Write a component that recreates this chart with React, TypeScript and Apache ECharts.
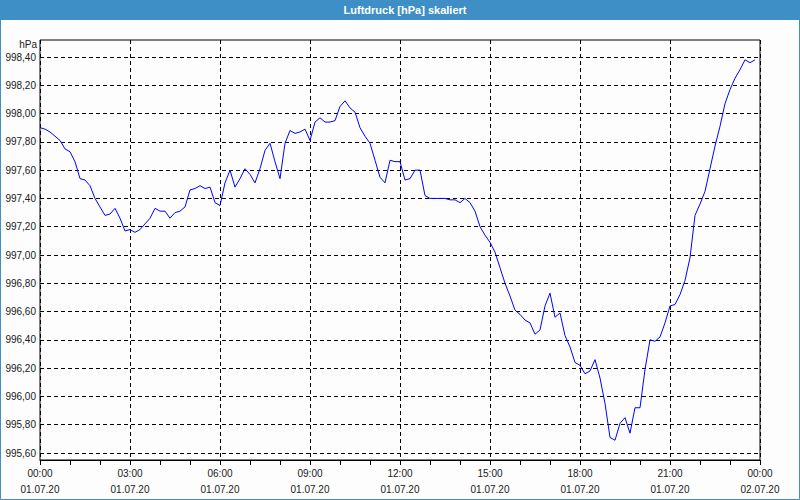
import React, { useEffect, useRef } from "react";
import * as echarts from "echarts";

// Luftdruck [hPa], 10-minute readings starting 01.07.20 00:00
const stepMinutes = 10;
const pressure: number[] = [
  997.90, 997.89, 997.87, 997.84, 997.81, 997.75, 997.73, 997.66, 997.54, 997.53,
  997.49, 997.40, 997.34, 997.28, 997.29, 997.33, 997.26, 997.17, 997.18, 997.16,
  997.18, 997.22, 997.26, 997.33, 997.31, 997.31, 997.26, 997.30, 997.31, 997.34,
  997.46, 997.47, 997.49, 997.47, 997.48, 997.37, 997.35, 997.51, 997.60, 997.48,
  997.54, 997.61, 997.57, 997.51, 997.61, 997.74, 997.79, 997.66, 997.54, 997.79,
  997.88, 997.86, 997.87, 997.89, 997.81, 997.94, 997.97, 997.94, 997.94, 997.95,
  998.05, 998.09, 998.04, 998.01, 997.90, 997.84, 997.79, 997.67, 997.55, 997.51,
  997.67, 997.66, 997.66, 997.53, 997.54, 997.60, 997.60, 997.42, 997.40, 997.40,
  997.40, 997.40, 997.39, 997.39, 997.37, 997.40, 997.37, 997.31, 997.20, 997.14,
  997.09, 997.02, 996.91, 996.80, 996.71, 996.61, 996.58, 996.54, 996.52, 996.44,
  996.47, 996.64, 996.73, 996.56, 996.59, 996.43, 996.35, 996.24, 996.22, 996.16,
  996.18, 996.26, 996.13, 995.95, 995.71, 995.69, 995.81, 995.85, 995.74, 995.92,
  995.92, 996.19, 996.40, 996.39, 996.42, 996.52, 996.64, 996.65, 996.72, 996.82,
  996.98, 997.28, 997.36, 997.45, 997.61, 997.77, 997.91, 998.07, 998.17, 998.25,
  998.31, 998.38, 998.36, 998.38,
];

const xMinMinutes = 0;
const xMaxMinutes = 1440;
const xTickMinutes = 180;
const yMin = 995.6;
const yMax = 998.4;
const yStep = 0.2;
const dateLabels = ["01.07.20", "02.07.20"];
const titleText = "Luftdruck [hPa] skaliert";
const unitText = "hPa";

const FONT = "Liberation Sans";

export default function App() {
  const ref = useRef<HTMLDivElement>(null);

  useEffect(() => {
    if (!ref.current) return;
    const chart = echarts.init(ref.current, undefined, { renderer: "svg" });
    const data = pressure.map((v, i) => [i * stepMinutes, v]);
    const dashed = { color: "#000", width: 1, type: [4, 3] as number[] };

    chart.setOption({
      animation: false,
      backgroundColor: "#fcfdfc",
      textStyle: { fontFamily: FONT },
      grid: [
        { left: 40, right: 40, top: 40, bottom: 40, show: false },
        { left: 40, right: 40, top: 57, bottom: 47, show: false },
      ],
      xAxis: [
        {
          gridIndex: 0,
          type: "value",
          min: xMinMinutes,
          max: xMaxMinutes,
          interval: xTickMinutes,
          axisLine: { show: true, lineStyle: { color: "#000", width: 1 } },
          axisTick: { show: true, length: 5, lineStyle: { color: "#000" } },
          minorTick: { show: true, splitNumber: 3, length: 5, lineStyle: { color: "#000" } },
          splitLine: { show: true, lineStyle: dashed },
          axisLabel: {
            margin: 5,
            fontSize: 10,
            fontFamily: FONT,
            color: "#1a1a1a",
            lineHeight: 16,
            formatter: (v: number) => {
              const h = Math.floor((v % 1440) / 60);
              const hh = (h < 10 ? "0" : "") + h + ":00";
              const d = dateLabels[Math.floor(v / 1440)];
              return hh + "\n" + d;
            },
          },
        },
        { gridIndex: 1, type: "value", min: xMinMinutes, max: xMaxMinutes, show: false },
      ],
      yAxis: [
        { gridIndex: 0, type: "value", min: 0, max: 1, show: false },
        {
          gridIndex: 1,
          type: "value",
          min: yMin,
          max: yMax,
          interval: yStep,
          axisLine: { show: false },
          axisTick: { show: false },
          splitLine: { show: true, lineStyle: dashed },
          axisLabel: {
            margin: 4,
            fontSize: 10,
            fontFamily: FONT,
            color: "#1a1a1a",
            formatter: (v: number) => v.toFixed(2).replace(".", ","),
          },
        },
      ],
      series: [
        {
          type: "line",
          xAxisIndex: 1,
          yAxisIndex: 1,
          data,
          showSymbol: false,
          symbol: "none",
          lineStyle: { color: "#0000ff", width: 1 },
        },
      ],
      graphic: [
        {
          type: "rect",
          shape: { x: 0, y: 0, width: 800, height: 20 },
          style: { fill: "#3d8fc6" },
        },
        {
          type: "text",
          x: 405,
          y: 10,
          style: {
            text: titleText,
            fill: "#ffffff",
            font: "bold 11px " + FONT,
            textAlign: "center",
            textVerticalAlign: "middle",
          },
        },
        {
          type: "rect",
          shape: { x: 0.5, y: 0.5, width: 799, height: 499 },
          style: { fill: "none", stroke: "#3d8fc6", lineWidth: 1 },
        },
        {
          type: "rect",
          shape: { x: 40, y: 40, width: 720, height: 420 },
          style: { fill: "none", stroke: "#000", lineWidth: 1 },
          z: 10,
        },
        {
          type: "text",
          x: 37,
          y: 44,
          style: {
            text: unitText,
            fill: "#1a1a1a",
            font: "10px " + FONT,
            textAlign: "right",
            textVerticalAlign: "middle",
          },
        },
      ],
    });

    return () => chart.dispose();
  }, []);

  return (
    <div
      ref={ref}
      style={{ position: "fixed", left: 0, top: 0, width: 800, height: 500 }}
    />
  );
}
